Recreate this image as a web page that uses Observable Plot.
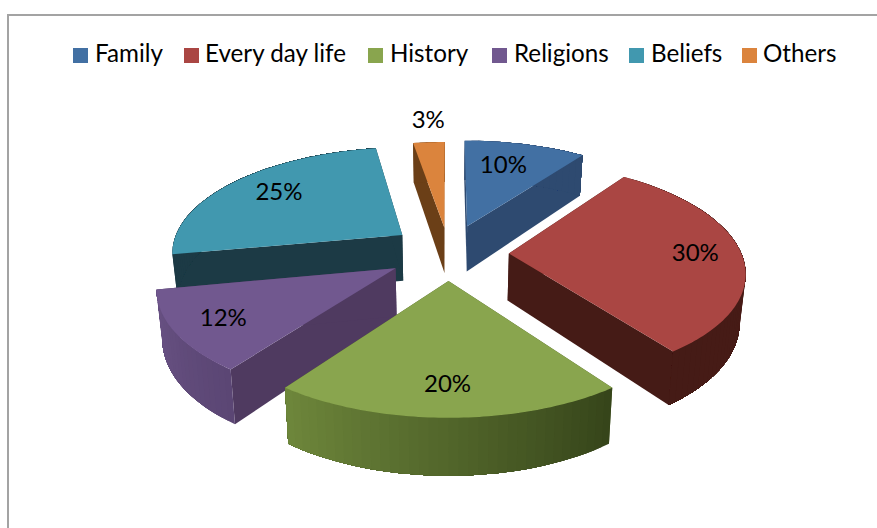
<!DOCTYPE html>
<html>
<head>
<meta charset="utf-8">
<script src="https://cdn.jsdelivr.net/npm/d3@7"></script>
<script src="https://cdn.jsdelivr.net/npm/@observablehq/plot@0.6"></script>
<style>
html,body{margin:0;padding:0;background:#fff;}
#wrap{position:relative;width:877px;height:528px;overflow:hidden;font-family:Lato,sans-serif;color:#000;}
#frame{position:absolute;left:7px;top:14px;width:880px;height:530px;border-left:2px solid #a3a3a3;border-top:2px solid #a3a3a3;}
.sw{position:absolute;top:48px;width:15px;height:15px;}
.lb{position:absolute;top:38px;font-size:24.2px;line-height:30px;white-space:nowrap;}
svg{position:absolute;left:0;top:0;}
</style>
</head>
<body>
<div id="wrap"><div id="frame"></div></div>
<script>
const categories = ["Family","Every day life","History","Religions","Beliefs","Others"];
const shares = [10,30,20,12,25.4,2.6];
const shareLabels = ["10%","30%","20%","12%","25%","3%"];
const topColors = ["#4270a3","#aa4643","#89a54e","#71588f","#4198af","#db843d"];
const edgeColors = ["#2e4a70","#451b16","#4b5c28","#4f3a60","#1c3a45","#6b3f17"];
const rimStart = ["#2e4a70","#4a1c17","#36451a","#5b4674","#1c3a45","#6b3f17"];
const rimEnd = ["#2e4a70","#451b16","#6f883c","#6a5385","#1c3a45","#6b3f17"];
// exploded-pie layout
const explode = [0.26,0.26,0.26,0.26,0.24,0.24];
const radii = [0.985,0.985,0.99,0.975,0.985,0.98];
const shiftX = [0.006,0,0.004,0.004,0,0.006];
const shiftY = [0.015,0,0.015,0.005,0.04,0.01];
const drawOrder = [5,0,4,1,3,2];
const labelReach = [0.97,1.05,1.02,1.03,1.0,1.525];
const labelTurn = [-1.8,0,0,0,3.6,0.9];
const legendSwatchX = [73,184,368,492,629,742];
const legendTextX = [95,205,390,514,651,763];

const tilt = 0.1536, dropHeight = 47/107.8, shrink = 0.98;
const project = (X,Y,low) => {
  const d = 1 + tilt*Y, s = low ? shrink : 1;
  return {px: s*X/d, py: Y/d - (low ? dropHeight/d : 0)};
};
const rad = a => a*Math.PI/180;
let acc = 0;
const slices = shares.map((v,i)=>{
  const a0 = acc*3.6; acc += v; const a1 = acc*3.6, mid=(a0+a1)/2;
  return {i,a0,a1,mid,ox:explode[i]*Math.sin(rad(mid))+shiftX[i],oy:explode[i]*Math.cos(rad(mid))+shiftY[i],r:radii[i]};
});
const edge = (s,a)=>[s.ox+s.r*Math.sin(rad(a)), s.oy+s.r*Math.cos(rad(a))];
const polys = [];
let pid = 0;
const addPoly = (pts,color)=>{
  const id = pid++;
  [...pts,pts[0]].forEach(p=>polys.push({...p,id,color}));
};
for (const i of drawOrder){
  const s = slices[i];
  const apexTop = project(s.ox,s.oy,false), apexLow = project(s.ox,s.oy,true);
  for (const a of [s.a0,s.a1]){
    const [X,Y] = edge(s,a);
    addPoly([apexTop,project(X,Y,false),project(X,Y,true),apexLow],edgeColors[i]);
  }
  const mix = d3.interpolateRgb(rimStart[i],rimEnd[i]);
  const steps = Math.ceil((s.a1-s.a0)/2);
  // each rim band runs on to the end of the slice, so the next band overlaps it and no seam shows
  for (let k=0;k<steps;k++){
    const band=[];
    const low=[];
    for (let m=k;m<=steps;m++){
      const [X,Y]=edge(s,s.a0+(s.a1-s.a0)*m/steps);
      band.push(project(X,Y,false));
      low.unshift(project(X,Y,true));
    }
    addPoly([...band,...low],d3.color(mix(k/steps)).formatHex());
  }
  const top=[apexTop];
  const topSteps=Math.ceil(s.a1-s.a0);
  for (let k=0;k<=topSteps;k++){
    const [X,Y]=edge(s,s.a0+(s.a1-s.a0)*k/topSteps);
    top.push(project(X,Y,false));
  }
  addPoly(top,topColors[i]);
}
const labels = slices.map(s=>{
  const a=s.mid+labelTurn[s.i], t=labelReach[s.i];
  return {...project(t*Math.sin(rad(a)),t*Math.cos(rad(a)),false),text:shareLabels[s.i]};
});

const chart = Plot.plot({
  width:877,height:528,margin:0,
  x:{domain:[-447/236,430/236],range:[0,877],axis:null},
  y:{domain:[(253-528)/107.8,253/107.8],range:[528,0],axis:null},
  marks:[
    Plot.line(polys,{x:"px",y:"py",z:"id",fill:"color",curve:"linear"}),
    Plot.text(labels,{x:"px",y:"py",text:"text",fontSize:24,fontFamily:"Lato, sans-serif",fill:"#000",textAnchor:"middle",lineAnchor:"middle"})
  ]
});
chart.style.background="transparent";
const wrap=document.getElementById("wrap");
wrap.appendChild(chart);
categories.forEach((c,i)=>{
  const sw=document.createElement("div");sw.className="sw";sw.style.left=legendSwatchX[i]+"px";sw.style.background=topColors[i];wrap.appendChild(sw);
  const lb=document.createElement("div");lb.className="lb";lb.style.left=legendTextX[i]+"px";lb.textContent=c;wrap.appendChild(lb);
});
</script>
</body>
</html>
